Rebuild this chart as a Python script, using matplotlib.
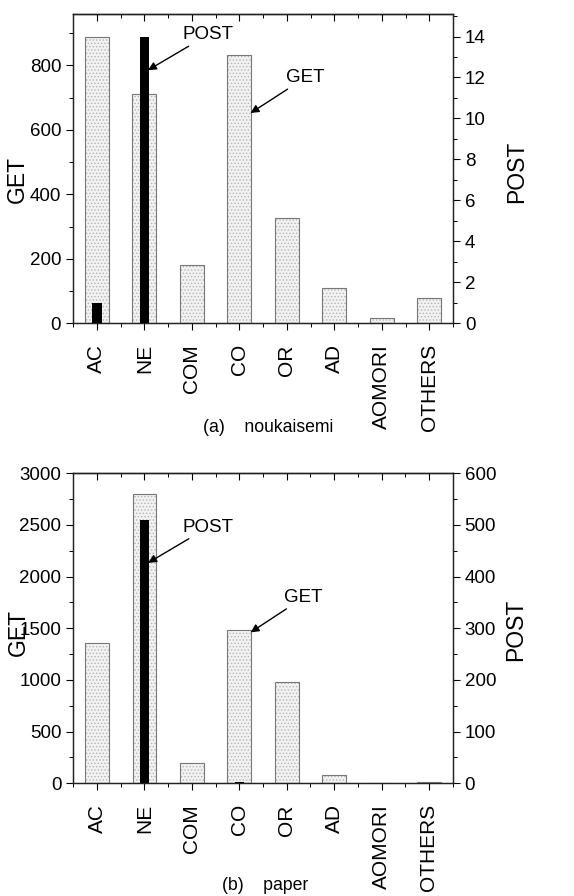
import matplotlib
matplotlib.use("Agg")
import matplotlib.pyplot as plt
from matplotlib.ticker import MultipleLocator
import numpy as np

plt.rcParams['font.family'] = ['Liberation Sans', 'DejaVu Sans']
plt.rcParams['hatch.linewidth'] = 0.6

categories = ['AC', 'NE', 'COM', 'CO', 'OR', 'AD', 'AOMORI', 'OTHERS']

get_a = [887, 711, 180, 833, 326, 108, 15, 77]
post_a = [1, 14, 0, 0, 0, 0, 0, 0]

get_b = [1360, 2800, 200, 1480, 985, 80, 3, 12]
post_b = [0, 510, 0, 3, 0, 1, 0, 0]

caption_a = '(a)    noukaisemi'
caption_b = '(b)    paper'

W, H = 574, 896
fig = plt.figure(figsize=(W / 100, H / 100), dpi=100)


def panel(rect, get, post, gmax, pmax, gmaj, gmin, pmaj, pmin,
          post_txt, post_tip, get_txt, get_tip, glab_y, plab_y):
    ax = fig.add_axes(rect)
    x = np.arange(len(categories))
    # stippled fill
    ax.bar(x, get, width=0.5, facecolor='#f2f2f2', edgecolor='#b5b5b5',
           hatch='.....', linewidth=0, zorder=2)
    # outline
    ax.bar(x, get, width=0.5, facecolor='none', edgecolor='#777777',
           linewidth=0.8, zorder=3)
    ax.set_xlim(-0.5, 7.5)
    ax.set_ylim(0, gmax)
    ax.set_xticks(x)
    ax.set_xticklabels(categories, rotation=90, fontsize=15)
    ax.xaxis.set_minor_locator(MultipleLocator(0.5))
    ax.yaxis.set_major_locator(MultipleLocator(gmaj))
    ax.yaxis.set_minor_locator(MultipleLocator(gmin))
    ax.tick_params(axis='y', which='major', labelsize=13.5, length=5,
                   width=0.8, direction='out')
    ax.tick_params(axis='y', which='minor', length=3, width=0.7, direction='out')
    ax.tick_params(axis='x', which='major', length=5, width=0.8,
                   direction='out', pad=10)
    ax.tick_params(axis='x', which='minor', length=3, width=0.7,
                   direction='out')
    top = ax.secondary_xaxis('top')
    top.set_xticks(x)
    top.xaxis.set_minor_locator(MultipleLocator(0.5))
    top.tick_params(which='major', direction='in', length=5, width=0.8,
                    labeltop=False)
    top.tick_params(which='minor', direction='in', length=3, width=0.7)
    top.spines['top'].set_linewidth(0.9)
    ax.set_ylabel('GET', fontsize=16.5)
    ax.yaxis.set_label_coords(-0.146, glab_y)
    ax.yaxis.label.set_va('center')
    for s in ax.spines.values():
        s.set_linewidth(0.9)
        s.set_color('#222222')

    ax2 = ax.twinx()
    ax2.bar(x, post, width=0.2, color='black', zorder=4)
    ax2.set_ylim(0, pmax)
    ax2.yaxis.set_major_locator(MultipleLocator(pmaj))
    ax2.yaxis.set_minor_locator(MultipleLocator(pmin))
    ax2.tick_params(axis='y', which='major', labelsize=13.5, length=5,
                    width=0.8, direction='out')
    ax2.tick_params(axis='y', which='minor', length=3, width=0.7,
                    direction='out')
    ax2.set_ylabel('POST', fontsize=16.5)
    ax2.yaxis.set_label_coords(1.167, plab_y)
    ax2.yaxis.label.set_va('center')
    for s in ax2.spines.values():
        s.set_linewidth(0.9)
        s.set_color('#222222')

    arrow = dict(arrowstyle='-|>', color='black', lw=1.0,
                 mutation_scale=12, shrinkA=0, shrinkB=0)
    ax2.annotate('POST', xy=post_tip, xytext=post_txt, fontsize=13.5,
                 va='center', ha='left', arrowprops=arrow, zorder=6,
                 xycoords=ax.transData, textcoords=ax.transData)
    ax2.annotate('GET', xy=get_tip, xytext=get_txt, fontsize=13.5,
                 va='center', ha='left', arrowprops=arrow, zorder=6,
                 xycoords=ax.transData, textcoords=ax.transData)
    return ax


# top panel
panel([73 / W, 1 - 323.3 / H, 380 / W, 309.3 / H],
      get_a, post_a, 959, 15.1, 200, 100, 2, 1,
      (1.80, 894), (1.08, 785), (3.98, 761), (3.24, 652), 0.465, 0.49)
fig.text(268 / W, 1 - 428 / H, caption_a, ha='center', va='center',
         fontsize=12.7)

# bottom panel
panel([73.3 / W, 1 - 783.3 / H, 379.4 / W, 310 / H],
      get_b, post_b, 3000, 600, 500, 250, 100, 50,
      (1.80, 2476), (1.08, 2134), (3.95, 1797), (3.24, 1461), 0.488, 0.495)
fig.text(265 / W, 1 - 885 / H, caption_b, ha='center', va='center',
         fontsize=12.7)

fig.savefig('out.png', dpi=100)
